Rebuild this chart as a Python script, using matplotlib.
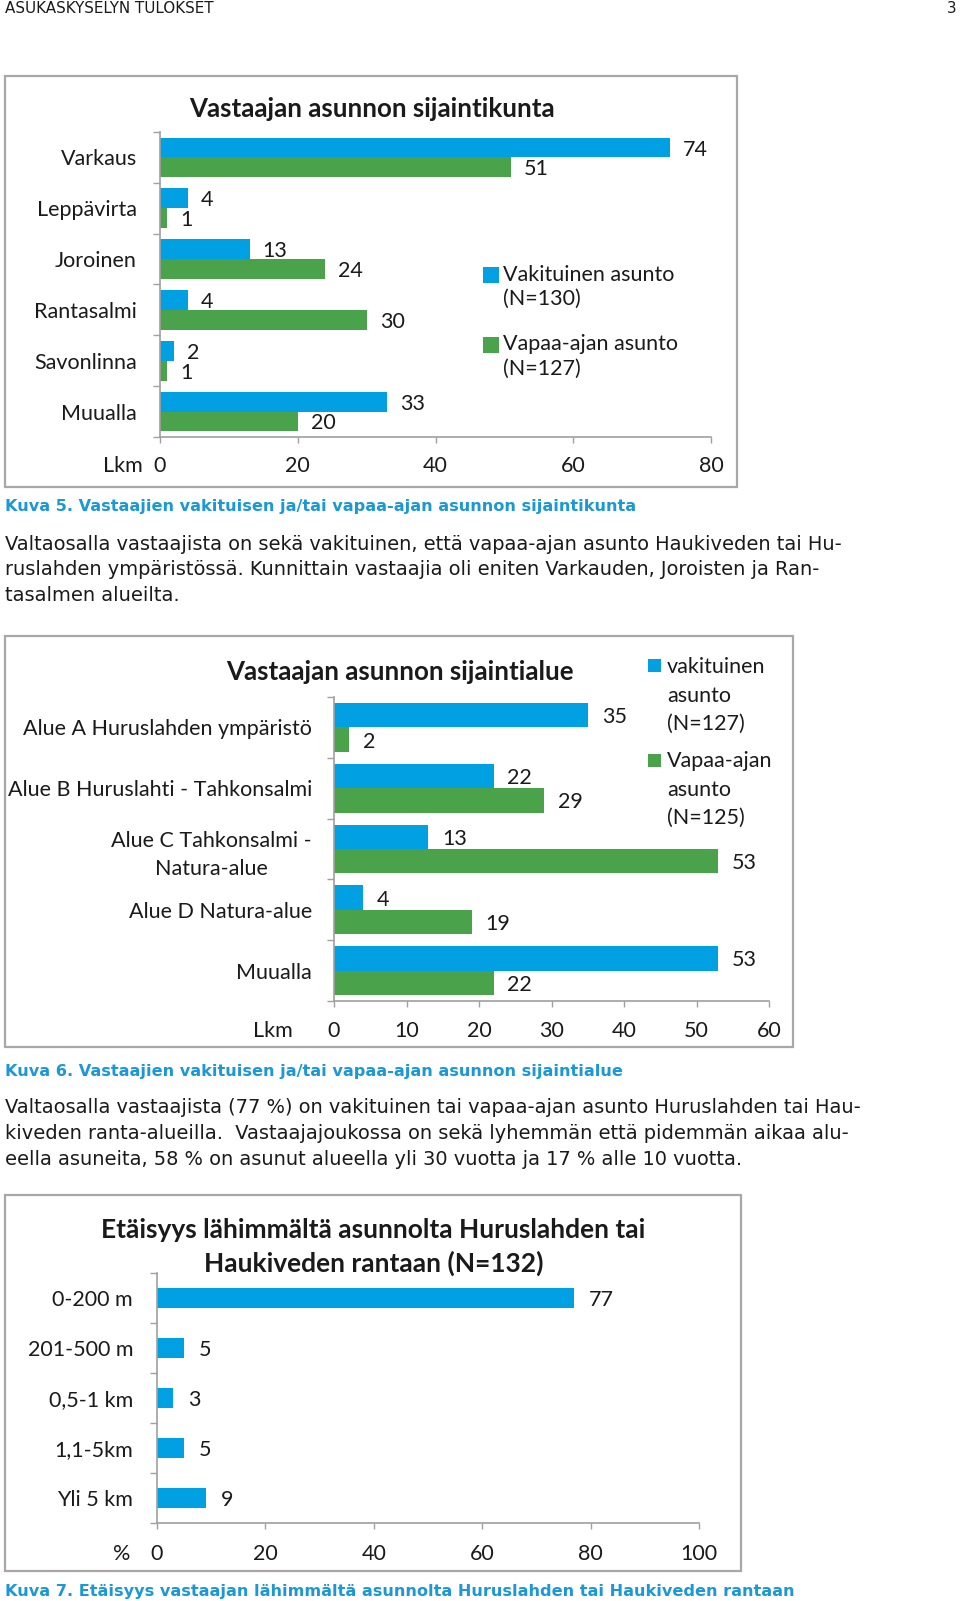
import matplotlib
matplotlib.use("Agg")
import matplotlib.pyplot as plt
from matplotlib.patches import Rectangle

# ---------------- data ----------------
c1_categories = ["Varkaus", "Leppävirta", "Joroinen", "Rantasalmi", "Savonlinna", "Muualla"]
c1_vakituinen = [74, 4, 13, 4, 2, 33]
c1_vapaa = [51, 1, 24, 30, 1, 20]
c1_ticks = [0, 20, 40, 60, 80]
c1_title = "Vastaajan asunnon sijaintikunta"
c1_legend = ["Vakituinen asunto\n(N=130)", "Vapaa-ajan asunto\n(N=127)"]

c2_categories = ["Alue A Huruslahden ympäristö", "Alue B Huruslahti - Tahkonsalmi",
                 "Alue C Tahkonsalmi -\nNatura-alue", "Alue D Natura-alue", "Muualla"]
c2_vakituinen = [35, 22, 13, 4, 53]
c2_vapaa = [2, 29, 53, 19, 22]
c2_ticks = [0, 10, 20, 30, 40, 50, 60]
c2_title = "Vastaajan asunnon sijaintialue"
c2_legend = ["vakituinen\nasunto\n(N=127)", "Vapaa-ajan\nasunto\n(N=125)"]

c3_categories = ["0-200 m", "201-500 m", "0,5-1 km", "1,1-5km", "Yli 5 km"]
c3_values = [77, 5, 3, 5, 9]
c3_ticks = [0, 20, 40, 60, 80, 100]
c3_title = ["Etäisyys lähimmältä asunnolta Huruslahden tai", "Haukiveden rantaan (N=132)"]

header_left = "ASUKASKYSELYN TULOKSET"
header_right = "3"
caption5 = "Kuva 5. Vastaajien vakituisen ja/tai vapaa-ajan asunnon sijaintikunta"
caption6 = "Kuva 6. Vastaajien vakituisen ja/tai vapaa-ajan asunnon sijaintialue"
caption7 = "Kuva 7. Etäisyys vastaajan lähimmältä asunnolta Huruslahden tai Haukiveden rantaan"
para1 = ["Valtaosalla vastaajista on sekä vakituinen, että vapaa-ajan asunto Haukiveden tai Hu-",
         "ruslahden ympäristössä. Kunnittain vastaajia oli eniten Varkauden, Joroisten ja Ran-",
         "tasalmen alueilta."]
para2 = ["Valtaosalla vastaajista (77 %) on vakituinen tai vapaa-ajan asunto Huruslahden tai Hau-",
         "kiveden ranta-alueilla.  Vastaajajoukossa on sekä lyhemmän että pidemmän aikaa alu-",
         "eella asuneita, 58 % on asunut alueella yli 30 vuotta ja 17 % alle 10 vuotta."]

# ---------------- style ----------------
BLUE = "#00A0E3"
GREEN = "#4AA24A"
TXT = "#1a1a1a"
AXG = "#a0a0a0"
FRAME = "#a8a8a8"
CAPC = "#1b98d5"
CH_FONT = ["Lato", "DejaVu Sans"]
BODY_FONT = ["DejaVu Sans"]
PT = 0.72  # points per pixel at 100 dpi

plt.rcParams["font.family"] = CH_FONT

W, H = 960, 1601
fig = plt.figure(figsize=(9.6, 16.01), dpi=100)
fig.patch.set_facecolor("white")
renderer = fig.canvas.get_renderer()


def fx(x):
    return x / W


def fy(y):
    return 1 - y / H


def fit_size(s, target_px, **kw):
    t = fig.text(0, 0, s, fontsize=10, **kw)
    w = t.get_window_extent(renderer).width
    t.remove()
    return 10 * target_px / w


fs_tick = fit_size("Alue B Huruslahti - Tahkonsalmi", 303, family=CH_FONT)
fs_title = fit_size(c1_title, 364, family=CH_FONT, weight="bold")
fs_title3 = fit_size(c3_title[0], 547, family=CH_FONT, weight="bold")
fs_body = fit_size(para1[0], 838, family=BODY_FONT)
fs_cap = fit_size(caption5, 630, family=BODY_FONT, weight="bold")
fs_head = fit_size(header_left, 207, family=BODY_FONT)


def frame(x0, y0, x1, y1):
    fig.add_artist(Rectangle((fx(x0), fy(y1)), (x1 - x0) / W, (y1 - y0) / H,
                             transform=fig.transFigure, fill=False,
                             edgecolor=FRAME, linewidth=1.6))


def make_axes(x0, y0, x1, y1):
    return fig.add_axes([fx(x0), fy(y1), (x1 - x0) / W, (y1 - y0) / H])


def style_axes(ax, cats, ticks, ylab_pad_px, xlab_base_px):
    n = len(cats)
    ax.set_xlim(ticks[0], ticks[-1])
    ax.set_ylim(n - 0.5, -0.5)
    ax.set_yticks([i - 0.5 for i in range(n + 1)])
    ax.set_yticklabels([])
    ax.set_yticks(range(n), minor=True)
    ax.set_yticklabels(cats, minor=True)
    ax.tick_params(axis="y", which="major", length=7 * PT, width=1, color=AXG, direction="out")
    ax.tick_params(axis="y", which="minor", length=0, pad=ylab_pad_px * PT,
                   labelsize=fs_tick, labelcolor=TXT)
    ax.set_xticks(ticks)
    ax.set_xticklabels([str(t) for t in ticks])
    ax.tick_params(axis="x", length=6 * PT, width=1, color=AXG, direction="out",
                   pad=(xlab_base_px - 6) * PT, labelsize=fs_tick, labelcolor=TXT)
    for lbl in ax.get_xticklabels():
        lbl.set_verticalalignment("baseline")
    for lbl in ax.get_yticklabels(minor=True):
        lbl.set_multialignment("center")
        lbl.set_linespacing(1.5)
    for s in ["top", "right"]:
        ax.spines[s].set_visible(False)
    for s in ["left", "bottom"]:
        ax.spines[s].set_color(AXG)
        ax.spines[s].set_linewidth(1.2)
    ax.set_facecolor("none")


def bar_labels(ax, ys, vals, off_px):
    for y, v in zip(ys, vals):
        ax.annotate(str(v), xy=(v, y), xytext=(off_px * PT, 0), textcoords="offset points",
                    ha="left", va="center_baseline", fontsize=fs_tick, color=TXT)


def legend_entry(x_sq, y_sq, sq, color, x_txt, baselines, label):
    fig.add_artist(Rectangle((fx(x_sq), fy(y_sq + sq)), sq / W, sq / H,
                             transform=fig.transFigure, facecolor=color, edgecolor="none"))
    for b, line in zip(baselines, label.split("\n")):
        fig.text(fx(x_txt), fy(b), line, ha="left", va="baseline", fontsize=fs_tick, color=TXT)


# ---------------- header ----------------
fig.text(fx(5), fy(13), header_left, family=BODY_FONT, fontsize=fs_head, color=TXT,
         ha="left", va="baseline")
fig.text(fx(956), fy(13), header_right, family=BODY_FONT, fontsize=fs_head, color=TXT,
         ha="right", va="baseline")

# ---------------- chart 1 ----------------
frame(5, 76, 737, 487)
ax1 = make_axes(160, 132, 711, 437)
h = 0.39
y1 = list(range(len(c1_categories)))
ax1.barh([y - h / 2 for y in y1], c1_vakituinen, height=h, color=BLUE)
ax1.barh([y + h / 2 for y in y1], c1_vapaa, height=h, color=GREEN)
style_axes(ax1, c1_categories, c1_ticks, 23, 35)
bar_labels(ax1, [y - h / 2 for y in y1], c1_vakituinen, 13)
bar_labels(ax1, [y + h / 2 for y in y1], c1_vapaa, 13)
fig.text(fx(372), fy(117), c1_title, ha="center", va="baseline", fontsize=fs_title,
         weight="bold", color=TXT)
fig.text(fx(143), fy(472), "Lkm", ha="right", va="baseline", fontsize=fs_tick, color=TXT)
legend_entry(483, 267, 16, BLUE, 503, [281, 305], c1_legend[0])
legend_entry(483, 337, 16, GREEN, 503, [350, 375], c1_legend[1])

# caption + paragraph 1
fig.text(fx(5), fy(511), caption5, family=BODY_FONT, weight="bold", fontsize=fs_cap,
         color=CAPC, ha="left", va="baseline")
for i, line in enumerate(para1):
    fig.text(fx(5), fy(550 + 25.3 * i), line, family=BODY_FONT, fontsize=fs_body,
             color=TXT, ha="left", va="baseline")

# ---------------- chart 2 ----------------
frame(5, 636, 793, 1047)
ax2 = make_axes(334, 697, 769, 1001)
h2 = 0.4
y2 = list(range(len(c2_categories)))
ax2.barh([y - h2 / 2 for y in y2], c2_vakituinen, height=h2, color=BLUE)
ax2.barh([y + h2 / 2 for y in y2], c2_vapaa, height=h2, color=GREEN)
style_axes(ax2, c2_categories, c2_ticks, 22, 36)
bar_labels(ax2, [y - h2 / 2 for y in y2], c2_vakituinen, 14)
bar_labels(ax2, [y + h2 / 2 for y in y2], c2_vapaa, 14)
fig.text(fx(399.5), fy(680), c2_title, ha="center", va="baseline", fontsize=fs_title,
         weight="bold", color=TXT)
fig.text(fx(293), fy(1037), "Lkm", ha="right", va="baseline", fontsize=fs_tick, color=TXT)
legend_entry(648, 659, 13, BLUE, 667, [673, 701.5, 730], c2_legend[0])
legend_entry(648, 754, 13, GREEN, 667, [767, 795.5, 824], c2_legend[1])

fig.text(fx(5), fy(1076), caption6, family=BODY_FONT, weight="bold", fontsize=fs_cap,
         color=CAPC, ha="left", va="baseline")
for i, line in enumerate(para2):
    fig.text(fx(5), fy(1113 + 25.8 * i), line, family=BODY_FONT, fontsize=fs_body,
             color=TXT, ha="left", va="baseline")

# ---------------- chart 3 ----------------
frame(5, 1195, 741, 1571)
ax3 = make_axes(157, 1273, 699, 1523)
h3 = 0.39
y3 = list(range(len(c3_categories)))
ax3.barh(y3, c3_values, height=h3, color=BLUE)
style_axes(ax3, c3_categories, c3_ticks, 24, 37)
bar_labels(ax3, y3, c3_values, 15)
fig.text(fx(373.5), fy(1238), c3_title[0], ha="center", va="baseline", fontsize=fs_title3,
         weight="bold", color=TXT)
fig.text(fx(373.5), fy(1272), c3_title[1], ha="center", va="baseline", fontsize=fs_title3,
         weight="bold", color=TXT)
fig.text(fx(130), fy(1560), "%", ha="right", va="baseline", fontsize=fs_tick, color=TXT)

fig.text(fx(5), fy(1596), caption7, family=BODY_FONT, weight="bold", fontsize=fs_cap,
         color=CAPC, ha="left", va="baseline")

fig.savefig("out.png", dpi=100, facecolor="white")
